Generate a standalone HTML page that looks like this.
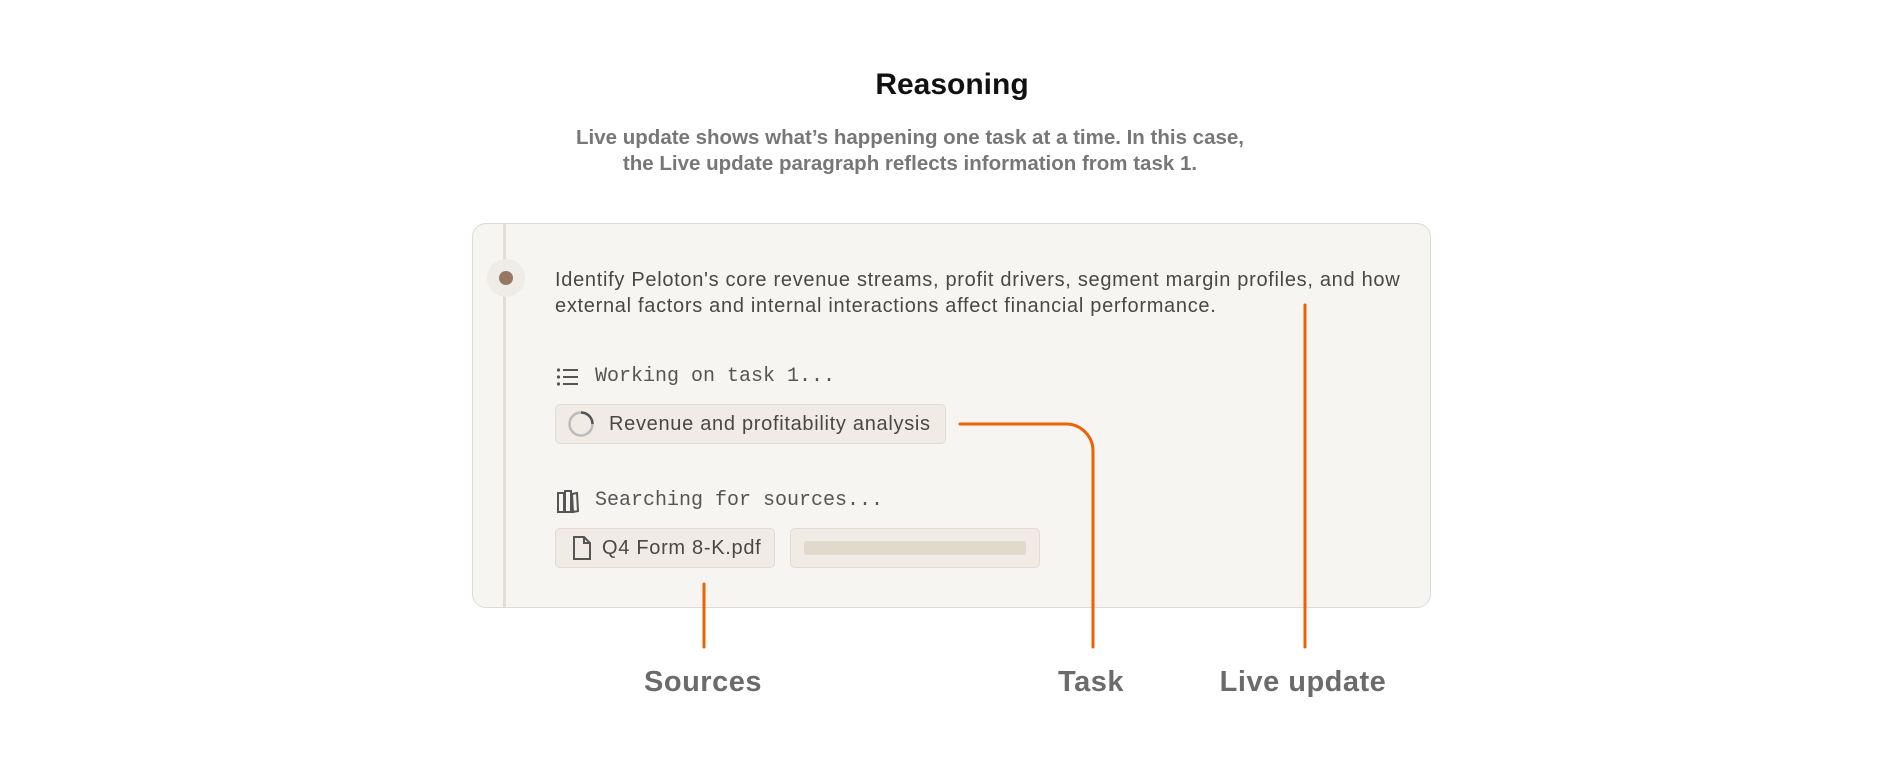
<!DOCTYPE html>
<html><head><meta charset="utf-8"><style>
*{margin:0;padding:0;box-sizing:border-box}
body{width:1904px;height:768px;background:#fff;position:relative;overflow:hidden;font-family:"Liberation Sans",sans-serif}
.a{position:absolute;white-space:nowrap}
.title{left:0;width:1904px;text-align:center;top:68px;font-size:30px;font-weight:bold;color:#111}
.sub{left:-42px;width:1904px;text-align:center;top:125px;font-size:20.5px;font-weight:bold;color:#777;line-height:26px}
.card{left:472px;top:223px;width:959px;height:385px;background:#f6f5f2;border:1.5px solid #dedbd6;border-radius:14px}
.vl{left:503px;top:224px;width:3px;height:383px;background:#e2ded7}
.halo{left:487px;top:259px;width:38px;height:38px;border-radius:50%;background:#efebe6}
.dot{left:499px;top:271px;width:14px;height:14px;border-radius:50%;background:#957860}
.p{left:555px;top:267px;font-size:20px;letter-spacing:0.7px;color:#4a4744;line-height:26px}
.mono{font-family:"Liberation Mono",monospace;font-size:20px;color:#555}
.chip{background:#f0ebe5;border:1.5px solid #e2dbd1;border-radius:5px}
.ct{font-size:20px;letter-spacing:0.7px;color:#4a4744}
.lbl{font-size:29px;font-weight:bold;color:#6b6b6b;letter-spacing:0.5px}
</style></head><body>
<div class="a title">Reasoning</div>
<div class="a sub">Live update shows what’s happening one task at a time. In this case,<br>the Live update paragraph reflects information from task 1.</div>
<div class="a card"></div>
<div class="a vl"></div>
<div class="a halo"></div>
<div class="a dot"></div>
<div class="a p">Identify Peloton's core revenue streams, profit drivers, segment margin profiles, and how<br>external factors and internal interactions affect financial performance.</div>
<svg class="a" style="left:556px;top:367px" width="24" height="20" viewBox="0 0 24 20"><g fill="#555"><circle cx="2.5" cy="3" r="1.6"/><circle cx="2.5" cy="10" r="1.6"/><circle cx="2.5" cy="17" r="1.6"/><rect x="7" y="2" width="15" height="2"/><rect x="7" y="9" width="15" height="2"/><rect x="7" y="16" width="15" height="2"/></g></svg>
<div class="a mono" style="left:595px;top:365px">Working on task 1...</div>
<div class="a chip" style="left:555px;top:404px;width:391px;height:40px"></div>
<svg class="a" style="left:567px;top:410px" width="28" height="28" viewBox="0 0 28 28"><circle cx="14" cy="14" r="11.5" fill="none" stroke="#bbb" stroke-width="2.5"/><path d="M14 2.5 A11.5 11.5 0 0 1 25.5 14" fill="none" stroke="#555" stroke-width="2.5"/></svg>
<div class="a ct" style="left:609px;top:413px">Revenue and profitability analysis</div>
<svg class="a" style="left:557px;top:490px" width="22" height="24" viewBox="0 0 22 24"><g fill="none" stroke="#555" stroke-width="2"><rect x="1" y="3" width="6" height="19"/><rect x="8" y="1" width="6" height="21"/><path d="M15 4 L20 3 L21 21 L16 22 Z"/></g></svg>
<div class="a mono" style="left:595px;top:489px">Searching for sources...</div>
<div class="a chip" style="left:555px;top:528px;width:220px;height:40px"></div>
<svg class="a" style="left:572px;top:536px" width="20" height="24" viewBox="0 0 20 24"><path d="M2 1 H12 L18 7 V23 H2 Z M12 1 V7 H18" fill="none" stroke="#555" stroke-width="2"/></svg>
<div class="a ct" style="left:602px;top:537px">Q4 Form 8-K.pdf</div>
<div class="a chip" style="left:790px;top:528px;width:250px;height:40px"></div>
<div class="a" style="left:804px;top:541px;width:222px;height:14px;border-radius:3px;background:#e2d9cd"></div>
<svg class="a" style="left:0;top:0" width="1904" height="768"><g fill="none" stroke="#ef6100" stroke-width="3" stroke-linecap="round"><path d="M704 584 V647"/><path d="M960 424 H1066 A27 27 0 0 1 1093 451 V647"/><path d="M1305 305 V647"/></g></svg>
<div class="a lbl" style="left:603px;width:200px;text-align:center;top:666px">Sources</div>
<div class="a lbl" style="left:991px;width:200px;text-align:center;top:666px">Task</div>
<div class="a lbl" style="left:1203px;width:200px;text-align:center;top:666px">Live update</div>
</body></html>
